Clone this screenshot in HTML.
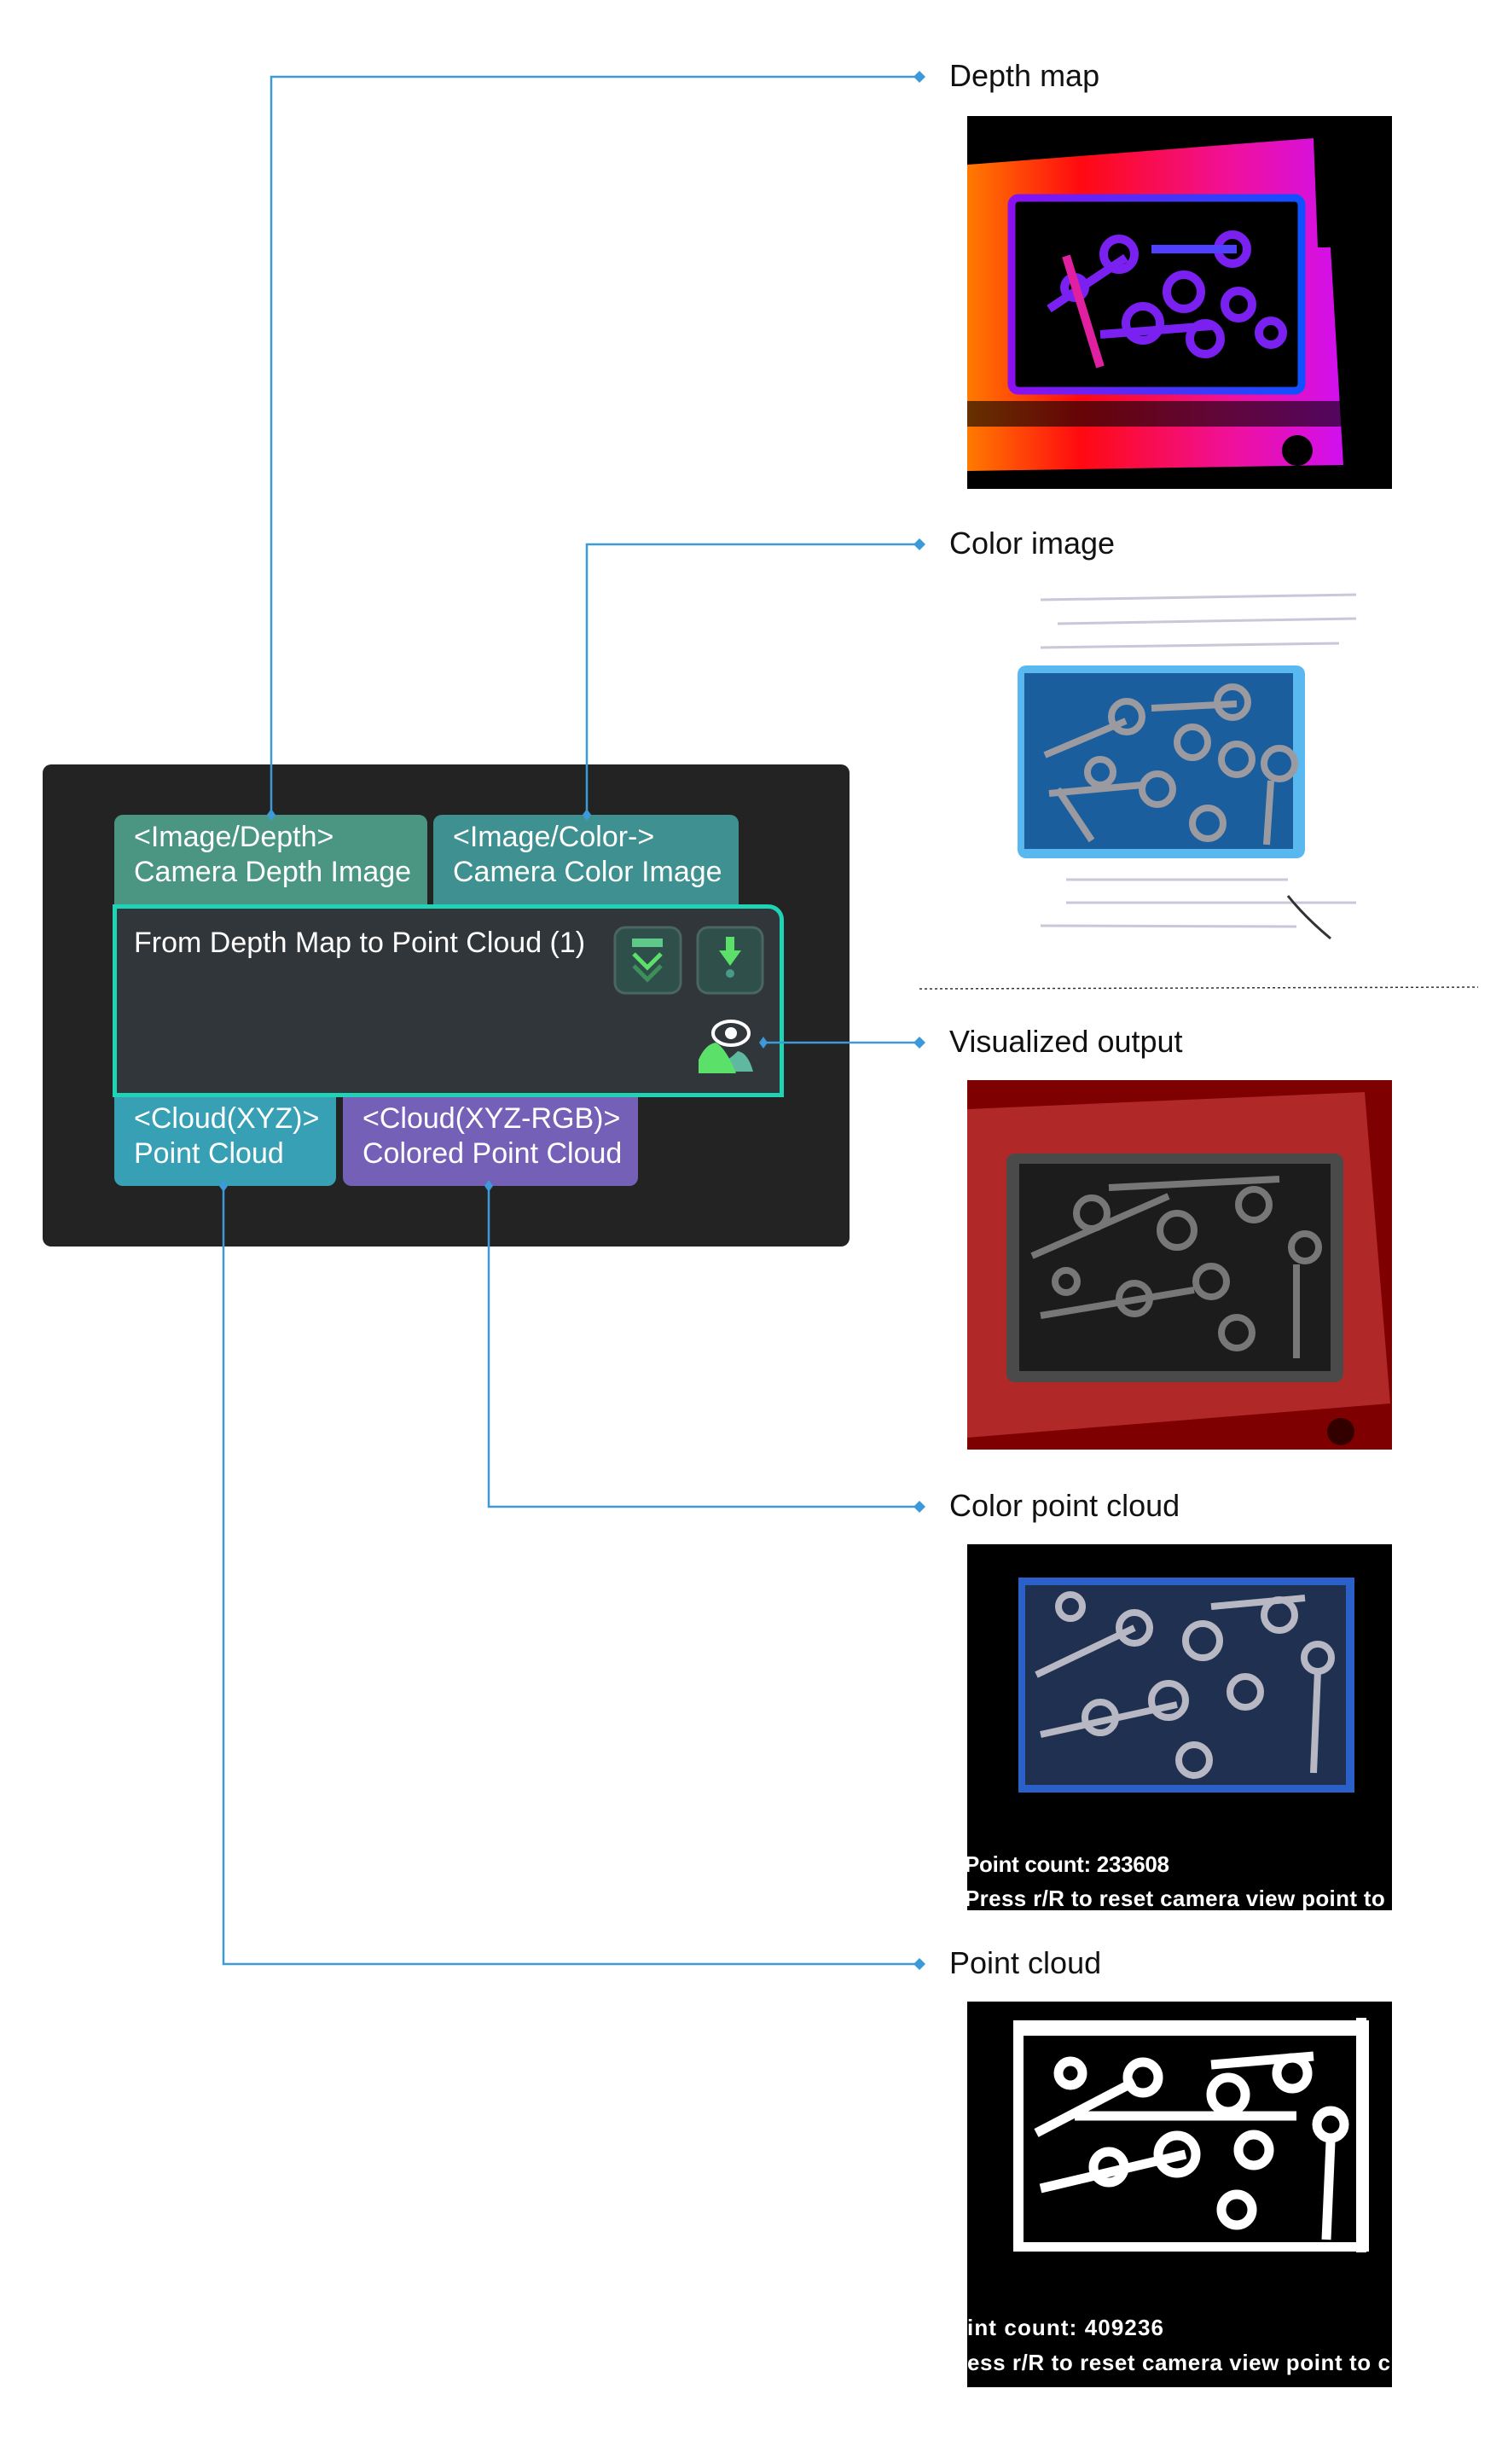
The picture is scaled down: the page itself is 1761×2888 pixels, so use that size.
<!DOCTYPE html>
<html><head><meta charset="utf-8"><style>
body{margin:0;background:#fff;}
#c{position:relative;width:1761px;height:2888px;overflow:hidden;font-family:"Liberation Sans",Arial,sans-serif;}
.a{position:absolute;}
.lbl{position:absolute;left:1113px;font-size:36px;color:#111;line-height:40px;}
.port{position:absolute;color:#fff;font-size:34px;line-height:41px;padding:6px 0 0 23px;box-sizing:border-box;border-radius:10px 10px 0 0;white-space:nowrap;}
.oport{position:absolute;color:#fff;font-size:34px;line-height:41px;padding:5px 0 0 23px;box-sizing:border-box;border-radius:0 0 10px 10px;white-space:nowrap;}
</style></head><body><div id="c">

<div class="a" style="left:50px;top:896px;width:946px;height:565px;background:#232323;border-radius:10px;"></div>
<div class="port" style="left:134px;top:955px;width:367px;height:105px;background:#4a9682;">&lt;Image/Depth&gt;<br>Camera Depth Image</div>
<div class="port" style="left:508px;top:955px;width:358px;height:105px;background:#3f9090;">&lt;Image/Color-&gt;<br>Camera Color Image</div>
<div class="a" style="left:132px;top:1060px;width:787px;height:226px;background:#30363a;border:5px solid #1ed4b4;box-sizing:border-box;border-radius:0 18px 0 0;"></div>
<div class="a" style="left:157px;top:1085px;color:#fff;font-size:34px;line-height:40px;white-space:nowrap;">From Depth Map to Point Cloud (1)</div>
<div class="oport" style="left:134px;top:1286px;width:260px;height:104px;background:#38a0b4;">&lt;Cloud(XYZ)&gt;<br>Point Cloud</div>
<div class="oport" style="left:402px;top:1286px;width:346px;height:104px;background:#7560b8;">&lt;Cloud(XYZ-RGB)&gt;<br>Colored Point Cloud</div>

<svg class="a" style="left:0;top:0" width="1761" height="2888">
 <rect x="721" y="1087" width="77" height="77" rx="12" fill="#2f4f4a" stroke="#4a6660" stroke-width="3"/>
 <rect x="741" y="1100" width="36" height="10" fill="#5fc98a"/>
 <polyline points="743,1118 759,1134 775,1118" fill="none" stroke="#5be06a" stroke-width="5"/>
 <polyline points="743,1132 759,1148 775,1132" fill="none" stroke="#3f8f5a" stroke-width="5"/>
 <rect x="818" y="1087" width="76" height="77" rx="12" fill="#2f4f4a" stroke="#4a6660" stroke-width="3"/>
 <rect x="851" y="1098" width="10" height="18" fill="#5be06a"/>
 <polygon points="843,1114 869,1114 856,1132" fill="#5be06a"/>
 <circle cx="856" cy="1141" r="5" fill="#4a9a8a"/>
 <ellipse cx="857" cy="1211" rx="21" ry="14" fill="none" stroke="#fff" stroke-width="4"/>
 <circle cx="857" cy="1211" r="7" fill="#fff"/>
 <path d="M846,1256 L883,1256 Q877,1234 865,1232 Q859,1238 853,1242 Z" fill="#5fb8a0"/>
 <path d="M819,1258 L819,1242 Q827,1224 839,1222 Q851,1228 863,1258 Z" fill="#5be06a"/>
 <g stroke="#3d9ad8" stroke-width="2.5" fill="none">
  <polyline points="318,955 318,90 1078,90"/>
  <polyline points="688,955 688,638 1078,638"/>
  <line x1="895" y1="1222" x2="1078" y2="1222"/>
  <polyline points="573,1390 573,1766 1078,1766"/>
  <polyline points="262,1390 262,2302 1078,2302"/>
 </g>
 <g fill="#3d9ad8">
  <polygon points="1078,83 1085,90 1078,97 1071,90"/>
  <polygon points="1078,631 1085,638 1078,645 1071,638"/>
  <polygon points="1078,1215 1085,1222 1078,1229 1071,1222"/>
  <polygon points="1078,1759 1085,1766 1078,1773 1071,1766"/>
  <polygon points="1078,2295 1085,2302 1078,2309 1071,2302"/>
  <polygon points="318,948 323,955 318,962 313,955"/>
  <polygon points="688,948 693,955 688,962 683,955"/>
  <polygon points="895,1215 900,1222 895,1229 890,1222"/>
  <polygon points="262,1383 267,1390 262,1397 257,1390"/>
  <polygon points="573,1383 578,1390 573,1397 568,1390"/>
 </g>
 <line x1="1078" y1="1159" x2="1733" y2="1157" stroke="#333" stroke-width="1.5" stroke-dasharray="3,3"/>

 <defs>
  <linearGradient id="dg" x1="0" x2="1"><stop offset="0" stop-color="#ff7a00"/><stop offset="0.3" stop-color="#ff0a10"/><stop offset="0.7" stop-color="#f0109a"/><stop offset="1" stop-color="#d010f0"/></linearGradient>
  <linearGradient id="bg2" x1="0" x2="1"><stop offset="0" stop-color="#8a10f0"/><stop offset="1" stop-color="#1050ff"/></linearGradient>
 </defs>
 <rect x="1134" y="136" width="498" height="437" fill="#000"/>
 <polygon points="1134,193 1540,162 1545,290 1560,290 1575,545 1134,552" fill="url(#dg)"/>
 <rect x="1134" y="470" width="440" height="30" fill="#000" opacity="0.6"/>
 <rect x="1186" y="232" width="340" height="226" rx="8" fill="#000" stroke="url(#bg2)" stroke-width="9"/>
 <g fill="none" stroke="#7a20f0" stroke-width="10">
  <circle cx="1312" cy="298" r="18"/><circle cx="1388" cy="342" r="20"/><circle cx="1452" cy="357" r="16"/><circle cx="1340" cy="379" r="20"/><circle cx="1413" cy="397" r="18"/><circle cx="1445" cy="292" r="17"/><circle cx="1260" cy="337" r="12"/><circle cx="1490" cy="390" r="14"/>
  <line x1="1230" y1="362" x2="1320" y2="302"/><line x1="1290" y1="392" x2="1420" y2="382"/><line x1="1350" y1="292" x2="1450" y2="292" stroke="#5040ff"/><line x1="1250" y1="300" x2="1290" y2="430" stroke="#e020a0"/>
 </g>
 <circle cx="1521" cy="528" r="18" fill="#000"/>

 <rect x="1134" y="688" width="498" height="417" fill="#fff"/>
 <g stroke="#c8c8d8" stroke-width="3">
  <line x1="1220" y1="703" x2="1590" y2="697"/><line x1="1240" y1="731" x2="1590" y2="725"/><line x1="1220" y1="759" x2="1570" y2="754"/>
  <line x1="1250" y1="1058" x2="1590" y2="1058"/><line x1="1220" y1="1085" x2="1520" y2="1086"/><line x1="1250" y1="1031" x2="1510" y2="1031"/>
 </g>
 <rect x="1193" y="780" width="337" height="226" rx="10" fill="#5ab8f0"/>
 <rect x="1201" y="789" width="315" height="206" fill="#1a5e9e"/>
 <g fill="none" stroke="#9a9aa0" stroke-width="8">
  <circle cx="1321" cy="840" r="18"/><circle cx="1398" cy="870" r="18"/><circle cx="1450" cy="890" r="18"/><circle cx="1357" cy="925" r="18"/><circle cx="1416" cy="965" r="18"/><circle cx="1445" cy="823" r="18"/><circle cx="1290" cy="905" r="15"/><circle cx="1500" cy="895" r="18"/>
  <line x1="1225" y1="885" x2="1320" y2="845"/><line x1="1230" y1="930" x2="1340" y2="920"/><line x1="1350" y1="830" x2="1450" y2="825"/><line x1="1490" y1="915" x2="1485" y2="990"/><line x1="1240" y1="925" x2="1280" y2="985"/>
 </g>
 <path d="M1510,1050 Q1530,1075 1560,1100" stroke="#333" stroke-width="3" fill="none"/>

 <rect x="1134" y="1266" width="498" height="433" fill="#7e0000"/>
 <polygon points="1134,1300 1600,1280 1630,1645 1134,1685" fill="#b02828"/>
 <rect x="1180" y="1352" width="395" height="268" rx="10" fill="#4a4a4a"/>
 <rect x="1195" y="1364" width="365" height="243" fill="#1c1c1c"/>
 <g fill="none" stroke="#777" stroke-width="8">
  <circle cx="1280" cy="1422" r="18"/><circle cx="1380" cy="1442" r="20"/><circle cx="1470" cy="1412" r="18"/><circle cx="1420" cy="1502" r="18"/><circle cx="1330" cy="1522" r="18"/><circle cx="1450" cy="1562" r="18"/><circle cx="1530" cy="1462" r="16"/><circle cx="1250" cy="1502" r="13"/>
  <line x1="1210" y1="1472" x2="1370" y2="1402"/><line x1="1220" y1="1542" x2="1400" y2="1512"/><line x1="1300" y1="1392" x2="1500" y2="1382"/><line x1="1520" y1="1482" x2="1520" y2="1592"/>
 </g>
 <circle cx="1572" cy="1678" r="16" fill="#300"/>

 <rect x="1134" y="1810" width="498" height="429" fill="#000"/>
 <rect x="1194" y="1849" width="394" height="252" fill="#2a60c8"/>
 <rect x="1202" y="1858" width="376" height="234" fill="#203050"/>
 <g fill="none" stroke="#b8b8c4" stroke-width="8">
  <circle cx="1255" cy="1883" r="14"/><circle cx="1330" cy="1908" r="18"/><circle cx="1410" cy="1923" r="20"/><circle cx="1500" cy="1893" r="18"/><circle cx="1370" cy="1993" r="20"/><circle cx="1460" cy="1983" r="18"/><circle cx="1290" cy="2013" r="18"/><circle cx="1400" cy="2063" r="18"/><circle cx="1545" cy="1943" r="16"/>
  <line x1="1215" y1="1963" x2="1330" y2="1908"/><line x1="1220" y1="2033" x2="1380" y2="1998"/><line x1="1420" y1="1883" x2="1530" y2="1873"/><line x1="1545" y1="1958" x2="1540" y2="2078"/>
 </g>
 <text x="1131" y="2194" font-family="Liberation Sans,sans-serif" font-size="26" font-weight="bold" fill="#fff" textLength="240">Point count: 233608</text>
 <text x="1131" y="2234" font-family="Liberation Sans,sans-serif" font-size="26" font-weight="bold" fill="#fff" textLength="530">Press r/R to reset camera view point to ce</text>
 <rect x="1632" y="2180" width="60" height="70" fill="#fff"/>

 <rect x="1134" y="2346" width="498" height="452" fill="#000"/>
 <rect x="1188" y="2368" width="417" height="271" fill="#fff"/>
 <rect x="1200" y="2386" width="390" height="242" fill="#000"/>
 <g fill="none" stroke="#fff" stroke-width="11">
  <circle cx="1255" cy="2430" r="14"/><circle cx="1340" cy="2435" r="18"/><circle cx="1440" cy="2455" r="20"/><circle cx="1515" cy="2430" r="18"/><circle cx="1380" cy="2525" r="22"/><circle cx="1470" cy="2520" r="18"/><circle cx="1300" cy="2540" r="18"/><circle cx="1450" cy="2590" r="18"/><circle cx="1560" cy="2490" r="16"/>
  <line x1="1215" y1="2500" x2="1330" y2="2440"/><line x1="1220" y1="2565" x2="1390" y2="2525"/><line x1="1420" y1="2420" x2="1540" y2="2410"/><line x1="1560" y1="2510" x2="1555" y2="2625"/><line x1="1260" y1="2480" x2="1520" y2="2480"/>
 </g>
 <rect x="1590" y="2365" width="12" height="275" fill="#fff"/>
 <text x="1134" y="2737" font-family="Liberation Sans,sans-serif" font-size="26" font-weight="bold" fill="#fff" textLength="230">int count: 409236</text>
 <text x="1134" y="2778" font-family="Liberation Sans,sans-serif" font-size="26" font-weight="bold" fill="#fff" textLength="496">ess r/R to reset camera view point to c</text>
 <rect x="1632" y="2720" width="60" height="90" fill="#fff"/>
</svg>

<div class="lbl" style="top:69px;">Depth map</div>
<div class="lbl" style="top:617px;">Color image</div>
<div class="lbl" style="top:1201px;">Visualized output</div>
<div class="lbl" style="top:1745px;">Color point cloud</div>
<div class="lbl" style="top:2281px;">Point cloud</div>
</div></body></html>
